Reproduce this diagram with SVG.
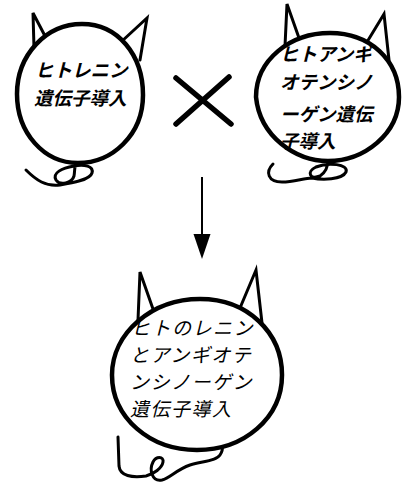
<svg xmlns="http://www.w3.org/2000/svg" width="409" height="487" viewBox="0 0 409 487">
  <style>
    .body { fill: #fff; stroke: #000; stroke-width: 4.5; }
    .ear { fill: none; stroke: #000; stroke-width: 3; stroke-linejoin: miter; stroke-linecap: round; }
    .tail { fill: none; stroke: #000; stroke-width: 3; stroke-linecap: round; stroke-linejoin: round; }
    .lbl { font-family: "Noto Sans CJK JP", "Noto Sans", sans-serif; font-style: italic; fill: #000; }
    .bold { font-weight: bold; font-size: 18.5px; }
    .thin { font-weight: normal; font-size: 19px; letter-spacing: 1.5px; }
    .link { stroke: #000; stroke-width: 2; fill: none; }
  </style>

  <rect width="409" height="487" fill="#fff"/>

  <!-- cat with human renin gene -->
  <g id="cat-renin">
    <path class="ear" d="M34,48 L33,13 L45,36"/>
    <path class="ear" d="M121,42 L147,18 L140,60"/>
    <path class="tail" d="M26,170 C36,180 46,187 60,185 C72,183 90,180 92,173 C94,166 84,164 74,166 C62,168 52,173 56,180 C60,186 72,183 74,176 C75,171 74,166 77,162"/>
    <path class="body" d="M82,24 C118,24 143,55 143,95 C143,135 112,163 78,163 C44,163 17,133 17,94 C17,55 46,24 82,24 Z"/>
    <text class="lbl bold" x="35" y="77">ヒトレニン</text>
    <text class="lbl bold" x="34" y="105">遺伝子導入</text>
  </g>

  <!-- cat with human angiotensinogen gene -->
  <g id="cat-angiotensinogen">
    <path class="ear" d="M285,46 L287,4 L299,38"/>
    <path class="ear" d="M367,42 L384,14 L389,60"/>
    <path class="tail" d="M273,164 C265,172 268,182 282,182 C294,182 304,178 312,178 C322,180 342,180 346,172 C349,164 328,162 316,167 C306,172 310,180 320,176 C326,172 328,166 328,160"/>
    <path class="body" d="M330,33 C370,33 399,60 399,97 C399,134 364,161 328,161 C296,161 260,137 256,97 C256,60 290,33 330,33 Z"/>
    <text class="lbl bold" x="280" y="61">ヒトアンギ</text>
    <text class="lbl bold" x="280" y="89">オテンシノ</text>
    <text class="lbl bold" x="280" y="121">ーゲン遺伝</text>
    <text class="lbl bold" x="280" y="148">子導入</text>
  </g>

  <!-- cross sign -->
  <g id="cross">
    <path d="M176,78 L231,124 M229,77 L176,124" stroke="#000" stroke-width="5.5" stroke-linecap="round" fill="none"/>
  </g>

  <!-- offspring: both genes -->
  <g id="cat-double">
    <path class="ear" d="M138,320 L140,272 L153,309"/>
    <path class="ear" d="M240,308 L256,270 L262,323"/>
    <path class="tail" d="M118,437 L119,466 C120,476 132,478 146,476 C154,474 162,468 163,462 C164,456 156,456 153,462 C149,470 152,482 162,480 C170,478 176,470 190,465 C204,461 216,461 220,455 C222,452 223,450 222,447"/>
    <path class="body" d="M200,299 C248,299 282,333 282,375 C282,418 244,450 197,450 C150,450 112,418 112,375 C112,333 152,299 200,299 Z"/>
    <text class="lbl thin" x="131" y="335">ヒトのレニン</text>
    <text class="lbl thin" x="130" y="362">とアンギオテ</text>
    <text class="lbl thin" x="130" y="389">ンシノーゲン</text>
    <text class="lbl thin" x="130" y="416">遺伝子導入</text>
  </g>

  <!-- connectors -->
  <g id="connectors">
    <line class="link" x1="202" y1="177" x2="202" y2="236"/>
    <path d="M193.5,234 L210.5,234 L202,259 Z" fill="#000"/>
  </g>
</svg>
